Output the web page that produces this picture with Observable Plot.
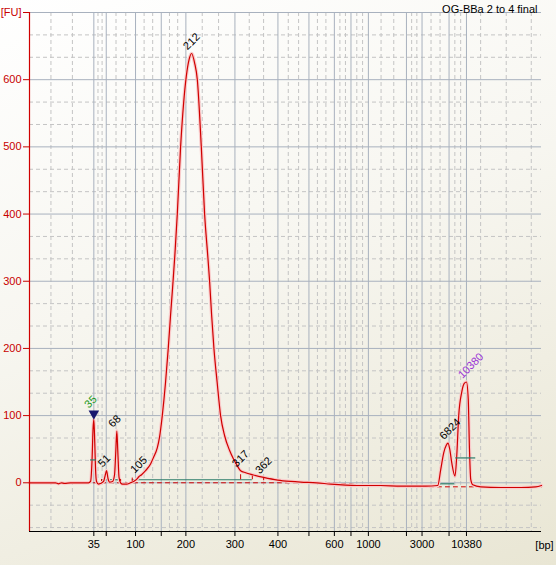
<!DOCTYPE html>
<html><head><meta charset="utf-8">
<script src="https://cdn.jsdelivr.net/npm/d3@7"></script>
<script src="https://cdn.jsdelivr.net/npm/@observablehq/plot@0.6"></script>
<style>
html,body{margin:0;padding:0;background:#ece9d8;overflow:hidden;}
#chart svg{display:block;}
</style></head><body><div id="chart"></div>
<script>
// ---- data ----
const title = "OG-BBa 2 to 4 final";
const ladderBp   = [35, 50, 100, 150, 200, 300, 400, 500, 600, 700, 1000, 2000, 3000, 7000, 10380];
const ladderTime = [51.31, 53.49, 58.64, 63.16, 67.49, 76.11, 83.67, 89.12, 93.59, 96.51, 99.57, 106.26, 109.00, 113.75, 116.81];
const labeledBp  = [35, 100, 200, 300, 400, 600, 1000, 3000, 10380];
const timeDomain = [40, 130];
const fuDomain   = [-72.5, 700];
const fuTicks    = [0, 100, 200, 300, 400, 500, 600, 700];
const tailMinorTime = [119.3, 123.8, 128.2];

const traceTime = [40.00, 41.93, 44.57, 45.10, 45.63, 46.16, 47.21, 48.97, 50.38, 50.73, 51.00, 51.17, 51.31, 51.47, 51.61, 51.78, 52.14, 52.49,
  53.02, 53.28, 53.54, 53.81, 54.07, 54.60, 54.95, 55.16, 55.35, 55.53, 55.74, 56.01, 56.36, 57.06, 57.76, 58.29, 58.82, 59.22, 59.70,
  60.40, 61.28, 61.81, 62.46, 62.86, 63.34, 63.92, 64.39, 64.80, 65.15, 65.56, 65.98, 66.56, 67.09, 67.56, 68.05, 68.49, 69.02, 69.50,
  70.20, 70.78, 71.36, 71.66, 72.01, 72.42, 72.98, 73.59, 74.30, 75.18, 75.88, 76.41, 77.11, 77.99, 79.22, 81.16, 83.62, 85.91, 87.67,
  90.48, 92.94, 97.52, 101.74, 105.25, 109.65, 111.76, 112.29, 112.82, 113.26, 113.57, 113.87, 114.22, 114.80, 115.10, 115.45, 115.98,
  116.42, 116.81, 117.12, 117.34, 117.56, 117.92, 119.32, 122.84, 126.36, 129.00, 130.00];
const traceFU = [0, 0, 0, -1.5, 0, -1, 0, 0, 0, 2, 35, 80, 94, 60, 20, 2, -2, -1,
  2, 10, 18, 6, 1, 2, 12, 45, 77, 45, 8, 0, -2, -2, 0, 2, 5, 9, 12,
  18, 28, 38, 52, 68, 100, 150, 200, 250, 290, 340, 400, 500, 565, 605, 630, 639, 625, 600,
  500, 400, 335, 300, 250, 200, 150, 100, 70, 48, 35, 27, 18, 15, 12, 8, 4, 2, 1,
  0, -2, -4, -4, -5, -5, -4, 20, 45, 56, 59, 50, 30, 10, 40, 100, 135,
  148, 150, 125, 50, 5, -3, -6, -7, -7, -6, -4];

const peakLabel = ["35", "51", "68", "105", "212", "317", "362", "6824", "10380"];
const peakTime  = [51.31, 53.54, 55.35, 59.22, 68.49, 77.11, 81.16, 113.57, 116.81];
const peakFU    = [94, 18, 77, 9, 639, 18, 8, 59, 150];
const peakColor = ["#1f9a1f", "#000", "#000", "#000", "#000", "#000", "#000", "#000", "#9b35d6"];

const baselineTime = [40, 92, 105, 130];
const baselineFU   = [0, 0, -6, -6];

const regionStart = [52.66, 58.06, 111.76];
const regionEnd   = [56.01, 79.17, 114.75];
const regionFU    = [4.5, 4.5, -1.5];

const halfStart = [50.73, 114.92];
const halfEnd   = [51.78, 118.44];
const halfFU    = [34, 37];

const boundTime = [52.66, 56.01, 58.06, 77.11, 79.17, 81.16];
const boundLow  = [2, 2, 2, 4.5, 4.5, 3];
const boundHigh = [5, 5, 7, 12, 10, 8];

// ---- derived tables ----
const trace = traceTime.map((t, i) => ({t, fu: traceFU[i]}));
const peaks = peakLabel.map((l, i) => ({label: l, t: peakTime[i], fu: peakFU[i], color: peakColor[i]}));
const baseline = baselineTime.map((t, i) => ({t, fu: baselineFU[i]}));
const regions = regionStart.map((s, i) => ({x1: s, x2: regionEnd[i], y: regionFU[i]}));
const halves = halfStart.map((s, i) => ({x1: s, x2: halfEnd[i], y: halfFU[i]}));
const bounds = boundTime.map((t, i) => ({x: t, y1: boundLow[i], y2: boundHigh[i]}));

const xStops = [timeDomain[0], ...ladderTime];
const minorX = [];
for (let i = 0; i < xStops.length - 1; i++) {
  const a = xStops[i], b = xStops[i + 1];
  minorX.push(a + (b - a) / 3, a + 2 * (b - a) / 3);
}
minorX.push(...tailMinorTime);
const minorY = [];
for (let v = -100; v < 700; v += 100) {
  minorY.push(v + 100 / 3, v + 200 / 3);
}
const minorYIn = minorY.filter(v => v > fuDomain[0] && v < fuDomain[1]);

const bpByTime = new Map(ladderTime.map((t, i) => [t, ladderBp[i]]));

const red = "#d00000";
const chart = Plot.plot({
  width: 556,
  height: 565,
  marginLeft: 29,
  marginRight: 15,
  marginTop: 12,
  marginBottom: 34,
  style: {
    fontFamily: "'Liberation Sans', Arial, sans-serif",
    fontSize: "11px",
    background: "linear-gradient(160deg, #ffffff 0%, #f7f6f0 45%, #e9e6d4 100%)",
    overflow: "visible"
  },
  x: {type: "linear", domain: timeDomain},
  y: {type: "linear", domain: fuDomain},
  marks: [
    Plot.ruleX(minorX, {stroke: "#c4c4c4", strokeDasharray: "4,3"}),
    Plot.ruleY(minorYIn, {stroke: "#c4c4c4", strokeDasharray: "4,3"}),
    Plot.ruleX(ladderTime, {stroke: "#a8b1be"}),
    Plot.ruleY(fuTicks, {stroke: "#a8b1be"}),
    Plot.line(baseline, {x: "t", y: "fu", stroke: red, strokeWidth: 1, strokeDasharray: "4,4"}),
    Plot.ruleY(regions, {x1: "x1", x2: "x2", y: "y", stroke: "#2c7c6a", strokeWidth: 1.2}),
    Plot.line(trace, {x: "t", y: "fu", stroke: "#f9cccc", strokeWidth: 3.5, curve: "monotone-x"}),
    Plot.line(trace, {x: "t", y: "fu", stroke: red, strokeWidth: 1.2, curve: "monotone-x"}),
    Plot.ruleX(bounds, {x: "x", y1: "y1", y2: "y2", stroke: red, strokeWidth: 1}),
    Plot.ruleY(halves, {x1: "x1", x2: "x2", y: "y", stroke: "#2c7c6a", strokeWidth: 1.2}),
    Plot.dot(peaks.slice(0, 1), {x: "t", y: "fu", symbol: "triangle", rotate: 180, r: 3.9, fill: "#17176e", stroke: "none", dy: -6}),
    Plot.text(peaks.slice(0, 1), {x: "t", y: "fu", text: "label", fill: "color", rotate: -45, textAnchor: "start", lineAnchor: "bottom", dx: -5, dy: -11, fontSize: 11}),
    Plot.text(peaks.slice(1), {x: "t", y: "fu", text: "label", fill: "color", rotate: -45, textAnchor: "start", lineAnchor: "bottom", dx: -4, dy: -3, fontSize: 11}),
    Plot.ruleX([timeDomain[0]], {stroke: red, strokeWidth: 1.2}),
    Plot.ruleY([fuDomain[0]], {stroke: "#000", strokeWidth: 1}),
    Plot.axisY({ticks: fuTicks, tickFormat: d => d === 700 ? "[FU]" : String(d), tickSize: 6, tickPadding: 2, color: "#c80000", label: null}),
    Plot.axisX({ticks: ladderTime, tickFormat: t => labeledBp.includes(bpByTime.get(t)) ? String(bpByTime.get(t)) : "", tickSize: 5, tickPadding: 4, color: "#000", label: null}),
    Plot.text([title], {frameAnchor: "top-right", textAnchor: "end", lineAnchor: "bottom", dx: -4, dy: 0, fill: "#000", fontSize: 11}),
    Plot.text(["[bp]"], {frameAnchor: "bottom-right", textAnchor: "middle", lineAnchor: "top", dx: 3, dy: 10, fill: "#000", fontSize: 11})
  ]
});
document.getElementById("chart").appendChild(chart);
</script>
</body></html>
